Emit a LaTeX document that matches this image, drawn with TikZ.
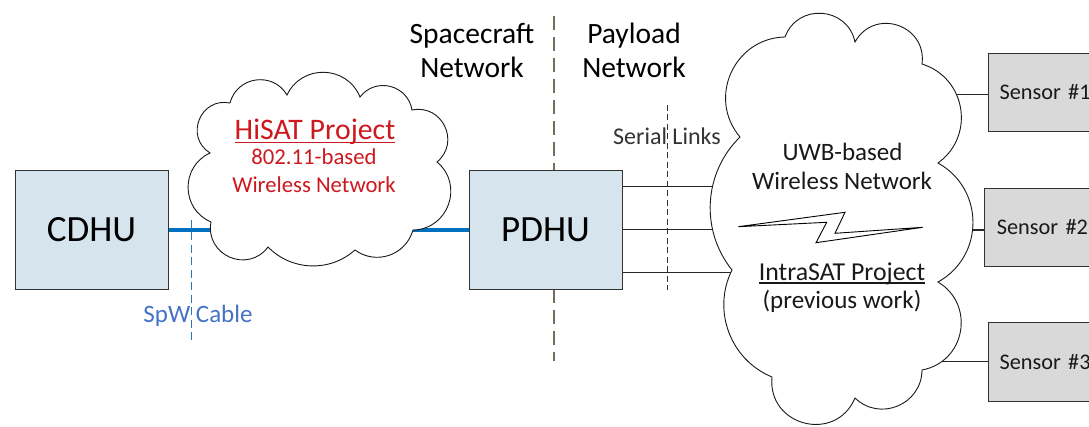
\documentclass[tikz,border=0pt]{standalone}
\usepackage{fontspec}
\setmainfont{Carlito}
\definecolor{boxblue}{RGB}{214,228,237}
\definecolor{sensorgray}{RGB}{217,217,217}
\definecolor{cablblue}{RGB}{0,112,192}
\definecolor{hisatred}{RGB}{204,24,30}
\definecolor{spwblue}{RGB}{68,114,196}
\definecolor{spwdash}{RGB}{46,117,182}
\definecolor{divcol}{RGB}{118,110,90}
\definecolor{edgecol}{RGB}{50,50,50}

\newcommand\ulpr[1]{\setbox0\hbox{#1}\rlap{\rule[-0.11em]{\wd0}{0.055em}}\box0}

\begin{document}
\begin{tikzpicture}[x=1pt,y=-1pt,
  box/.style={draw=edgecol, line width=1pt, fill=boxblue, minimum width=153pt, minimum height=119pt, inner sep=0pt, font=\fontsize{37}{44}\selectfont},
  sensorbox/.style={draw=edgecol, line width=1pt, fill=sensorgray, anchor=west, minimum height=78.5pt, text width=150pt, align=left, inner xsep=11pt, inner ysep=0pt, font=\fontsize{22.3}{27}\selectfont, text=black!90},
  lbl/.style={anchor=base, inner sep=0pt},
  hdr/.style={lbl, font=\fontsize{29.5}{35}\selectfont, text=black},
  cloudline/.style={draw=black!90, line width=0.9pt, fill=white, line join=miter},
  wire/.style={draw=black!85, line width=1.3pt},
  cable/.style={draw=cablblue, line width=4pt},
  divider/.style={draw=divcol, line width=2pt, dash pattern=on 14pt off 7pt},
  thindash/.style={draw=black!80, line width=1pt, dash pattern=on 6pt off 3.5pt},
  spwdashline/.style={draw=spwdash, line width=1pt, dash pattern=on 8pt off 4.5pt},
  bolt/.style={draw=black, line width=0.9pt, fill=white, line join=miter}
]
\useasboundingbox (0,0) rectangle (1089,427);

% divider between networks (under PDHU)
\coordinate (dtop) at (554,16);
\coordinate (dbot) at (554,361);
\draw[divider] (dtop) -- (dbot);

% boxes
\node[box] (cdhu) at (91.5,230) {CDHU};
\node[box] (pdhu) at (545.5,230) {PDHU};
\node[sensorbox] (sen1) at (988,92.5) {Sensor \#1};
\node[sensorbox, inner xsep=12pt] (sen2) at (984.3,227.5) {Sensor \#2};
\node[sensorbox] (sen3) at (988,362.2) {Sensor \#3};

% SpW cable through the HiSAT cloud
\draw[cable] (cdhu.east) -- (pdhu.west);

% serial links into the UWB cloud
\coordinate (u1) at (770,186.7);
\coordinate (u2) at (770,229.3);
\coordinate (u3) at (780,272.3);
\draw[wire] (pdhu.east |- u1) -- (u1);
\draw[wire] (pdhu.east |- u2) -- (u2);
\draw[wire] (pdhu.east |- u3) -- (u3);

% sensor links
\coordinate (k1) at (920,94.3);
\coordinate (k2) at (930,230);
\coordinate (k3) at (890,361.7);
\draw[wire] (k1) -- (k1 -| sen1.west);
\draw[wire] (k2) -- (k2 -| sen2.west);
\draw[wire] (k3) -- (k3 -| sen3.west);

% HiSAT cloud
\path[cloudline] (210,153)
  to[bend left=79.7, looseness=1.44] (230,103)
  to[bend left=67.6, looseness=1.23] (287,95)
  to[bend left=66.2, looseness=1.21] (360,97)
  to[bend left=66.8, looseness=1.22] (412,110)
  to[bend left=75.9, looseness=1.37] (437,162)
  to[bend left=69.7, looseness=1.26] (413,230)
  to[bend left=55.3, looseness=1.09] (355,250)
  to[bend left=43.6, looseness=0.99] (268,247)
  to[bend left=76.8, looseness=1.39] (211,222)
  to[bend left=66.2, looseness=1.21] (210,153) -- cycle;

% UWB cloud
\path[cloudline] (740,137)
  to[bend left=64.6, looseness=1.19] (785,37)
  to[bend left=73.9, looseness=1.33] (855,42)
  to[bend left=79.2, looseness=1.44] (922,64)
  to[bend left=63.4, looseness=1.18] (938,163)
  to[bend left=60.9, looseness=1.15] (938,282)
  to[bend left=69.2, looseness=1.26] (922,370)
  to[bend left=66.8, looseness=1.22] (855,398)
  to[bend left=81.4, looseness=1.48] (772,377)
  to[bend left=47.1, looseness=1.01] (732,270)
  to[bend left=42.2, looseness=0.98] (740,137) -- cycle;

% lightning bolt
\draw[bolt] (738.3,226.7) -- (826.7,222.3) -- (816,242.7) -- (922.7,227.3) -- (835,233.3) -- (845,212.3) -- cycle;

% dashed markers
\coordinate (spwtop) at (191.5,220);
\coordinate (spwbot) at (191.5,343);
\draw[spwdashline] (spwtop) -- (spwbot);
\coordinate (sertop) at (667.7,105);
\coordinate (serbot) at (667.7,290);
\draw[thindash] (sertop) -- (serbot);

% labels
\node[hdr] (sc1) at (472,43.3) {Spacecraft};
\node[hdr] (sc2) at (472,77.3) {Network};
\node[hdr] (pl1) at (634,43.3) {Payload};
\node[hdr] (pl2) at (634,77.3) {Network};

\node[lbl, font=\fontsize{29.8}{35}\selectfont, text=hisatred] (h1) at (315,140) {\ulpr{HiSAT Project}};
\node[lbl, font=\fontsize{22.7}{27}\selectfont, text=hisatred] (h2) at (314,165) {802.11-based};
\node[lbl, font=\fontsize{22.7}{27}\selectfont, text=hisatred] (h3) at (314,192.3) {Wireless Network};

\node[lbl, font=\fontsize{25}{29}\selectfont, text=spwblue] (spw) at (198,322.7) {SpW Cable};
\node[lbl, font=\fontsize{24}{29}\selectfont, text=black!80] (ser) at (667,145) {Serial Links};

\node[lbl, font=\fontsize{25}{30}\selectfont, text=black!90] (w1) at (842.5,160.7) {UWB-based};
\node[lbl, font=\fontsize{25}{30}\selectfont, text=black!90] (w2) at (842,189.3) {Wireless Network};
\node[lbl, font=\fontsize{25.8}{30}\selectfont, text=black!90] (w3) at (842,281) {\ulpr{IntraSAT Project}};
\node[lbl, font=\fontsize{25}{30}\selectfont, text=black!90] (w4) at (842,309) {(previous work)};
\end{tikzpicture}
\end{document}
